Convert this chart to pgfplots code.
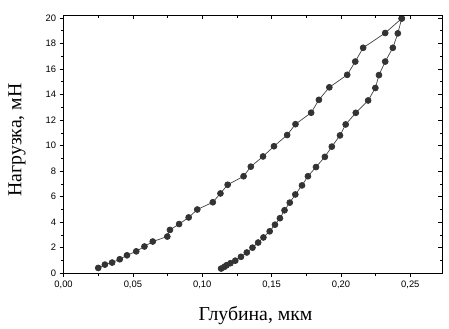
\documentclass[border=0pt]{standalone}
\usepackage{fontspec}
\setmainfont{Liberation Serif}
\newfontfamily\ticksf{Liberation Sans}
\usepackage{pgfplots}
\pgfplotsset{compat=1.18}
\begin{document}
\begin{tikzpicture}
\pgfplotsset{
  common/.style={
    width=383pt, height=260.6pt, scale only axis,
    xmin=0, xmax=0.273, ymin=0, ymax=20.2,
    xtick={0,0.05,...,0.25}, ytick={0,2,...,20},
    minor x tick num=1, minor y tick num=1,
    major tick length=4pt, minor tick length=2.5pt,
    every tick/.style={black, line width=0.7pt},
  }
}
\begin{axis}[common, name=ax,
  axis line style={line width=1.2pt},
  tick align=outside,
  xtick pos=lower, ytick pos=lower,
  /pgf/number format/assume math mode=true,
  xticklabel style={/pgf/number format/.cd, use comma, fixed, fixed zerofill, precision=2},
  ticklabel style={font=\ticksf\fontsize{9.5}{10}\selectfont},
  xlabel={Глубина, мкм}, ylabel={Нагрузка, мН},
  label style={font=\fontsize{20}{22}\selectfont},
  xlabel style={at={(axis description cs:0.507,0)}, anchor=center, yshift=-43pt},
  ylabel style={at={(axis description cs:0,0.517)}, anchor=center, yshift=47pt},
]
\addplot[black!75, line width=0.7pt, mark=*, mark size=3pt, mark options={fill=black!80, draw=black!80}] coordinates {
(0.0250,0.41) (0.0298,0.67) (0.0350,0.83) (0.0405,1.09) (0.0457,1.40)
(0.0524,1.71) (0.0583,2.09) (0.0643,2.48) (0.0748,2.87) (0.0767,3.39)
(0.0833,3.85) (0.0902,4.37) (0.0964,4.99) (0.1076,5.56) (0.1131,6.25)
(0.1183,6.93) (0.1298,7.60) (0.1350,8.35) (0.1438,9.15) (0.1517,9.95)
(0.1612,10.83) (0.1672,11.68) (0.1785,12.58) (0.1841,13.59) (0.1916,14.57)
(0.2045,15.55) (0.2103,16.59) (0.2160,17.67) (0.2319,18.83) (0.2438,19.97)
};
\addplot[black!75, line width=0.7pt, mark=*, mark size=3pt, mark options={fill=black!80, draw=black!80}] coordinates {
(0.1136,0.36) (0.1160,0.50) (0.1175,0.62) (0.1203,0.78) (0.1238,0.98)
(0.1279,1.28) (0.1321,1.62) (0.1362,2.00) (0.1403,2.40) (0.1441,2.80)
(0.1486,3.28) (0.1524,3.80) (0.1560,4.31) (0.1593,4.93) (0.1631,5.53)
(0.1671,6.17) (0.1719,6.88) (0.1762,7.60) (0.1820,8.32) (0.1884,9.12)
(0.1934,9.92) (0.1993,10.80) (0.2034,11.66) (0.2107,12.57) (0.2196,13.54)
(0.2248,14.52) (0.2274,15.53) (0.2319,16.59) (0.2374,17.67) (0.2410,18.80)
(0.2438,19.97)
};
\end{axis}
\begin{axis}[common,
  axis line style={line width=1.2pt},
  tick align=inside,
  xtick pos=upper, ytick pos=upper,
  xticklabels={}, yticklabels={},
]
\end{axis}
\path ([shift={(-64.3pt,-49.7pt)}]ax.south west) rectangle ([shift={(1.7pt,15.7pt)}]ax.north east);
\end{tikzpicture}
\end{document}
